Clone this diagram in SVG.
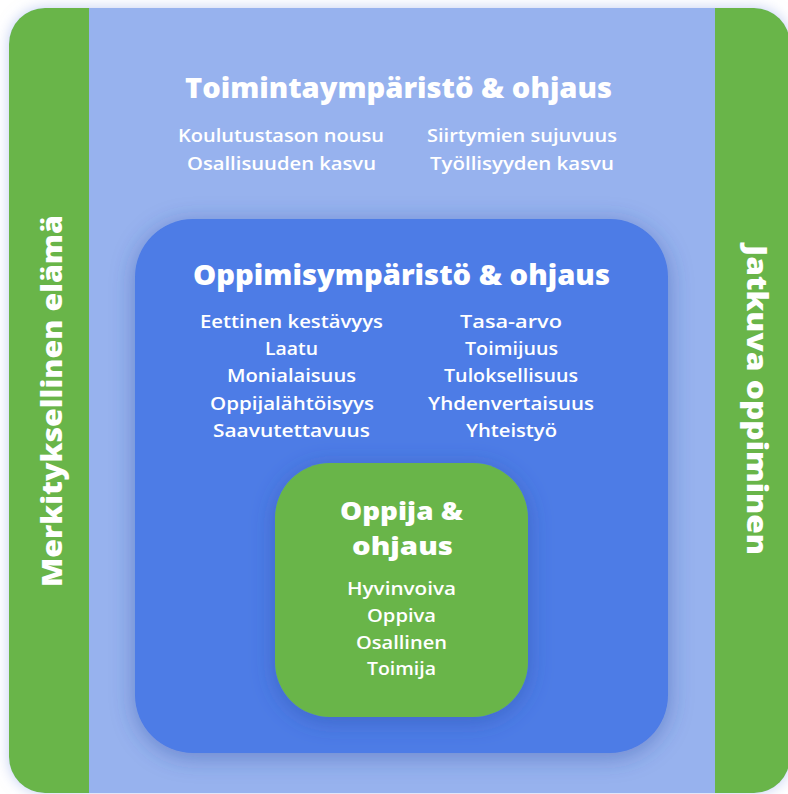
<svg xmlns="http://www.w3.org/2000/svg" width="788" height="794" viewBox="0 0 788 794">
  <defs>
    <filter id="glow" x="-10%" y="-10%" width="120%" height="120%">
      <feDropShadow dx="0" dy="0" stdDeviation="7" flood-color="#8ea4e6" flood-opacity="0.55"/>
    </filter>
    <filter id="shadow" x="-20%" y="-20%" width="140%" height="140%">
      <feDropShadow dx="0" dy="4" stdDeviation="12" flood-color="#2a4aa0" flood-opacity="0.45"/>
    </filter>
    <clipPath id="outerClip">
      <rect x="9" y="8" width="781" height="785" rx="36"/>
    </clipPath>
  </defs>
  <style>
    text { fill: #ffffff; font-family: "Open Sans", "Noto Sans", "Liberation Sans", sans-serif; text-anchor: middle; }
    .title { font-size: 28px; font-weight: 800; }
    .title2 { font-size: 25.5px; font-weight: 800; }
    .item { font-size: 18px; font-weight: 600; }
    .side { font-size: 29px; font-weight: 800; }
  </style>
  <rect width="788" height="794" fill="#ffffff"/>

  <g id="outer">
    <rect x="9" y="8" width="781" height="785" rx="36" fill="#69b54a" filter="url(#glow)"/>
    <rect x="89" y="8" width="626" height="785" fill="#97b2ee" clip-path="url(#outerClip)"/>
    <text class="side" transform="translate(62,401) rotate(-90)" textLength="372" lengthAdjust="spacingAndGlyphs">Merkityksellinen elämä</text>
    <text class="side" transform="translate(747,400) rotate(90)" textLength="310" lengthAdjust="spacingAndGlyphs">Jatkuva oppiminen</text>
  </g>

  <g id="toimintaymparisto">
    <text class="title" x="398.5" y="98" textLength="427" lengthAdjust="spacingAndGlyphs">Toimintaympäristö &amp; ohjaus</text>
    <text class="item" x="281" y="142" textLength="206" lengthAdjust="spacingAndGlyphs">Koulutustason nousu</text>
    <text class="item" x="281.5" y="170" textLength="189" lengthAdjust="spacingAndGlyphs">Osallisuuden kasvu</text>
    <text class="item" x="522" y="142" textLength="190" lengthAdjust="spacingAndGlyphs">Siirtymien sujuvuus</text>
    <text class="item" x="522" y="170" textLength="184" lengthAdjust="spacingAndGlyphs">Työllisyyden kasvu</text>
  </g>

  <g id="oppimisymparisto">
    <rect x="135" y="219" width="533" height="534" rx="58" fill="#4d7be6" filter="url(#shadow)"/>
    <text class="title" x="401.5" y="285" textLength="417" lengthAdjust="spacingAndGlyphs">Oppimisympäristö &amp; ohjaus</text>
    <text class="item" x="291.5" y="328" textLength="183" lengthAdjust="spacingAndGlyphs">Eettinen kestävyys</text>
    <text class="item" x="291.5" y="355" textLength="53" lengthAdjust="spacingAndGlyphs">Laatu</text>
    <text class="item" x="291.5" y="382" textLength="129" lengthAdjust="spacingAndGlyphs">Monialaisuus</text>
    <text class="item" x="292" y="410" textLength="164" lengthAdjust="spacingAndGlyphs">Oppijalähtöisyys</text>
    <text class="item" x="291.5" y="437" textLength="157" lengthAdjust="spacingAndGlyphs">Saavutettavuus</text>
    <text class="item" x="511" y="328" textLength="102" lengthAdjust="spacingAndGlyphs">Tasa-arvo</text>
    <text class="item" x="511.5" y="355" textLength="93" lengthAdjust="spacingAndGlyphs">Toimijuus</text>
    <text class="item" x="511" y="382" textLength="134" lengthAdjust="spacingAndGlyphs">Tuloksellisuus</text>
    <text class="item" x="511" y="410" textLength="166" lengthAdjust="spacingAndGlyphs">Yhdenvertaisuus</text>
    <text class="item" x="511.5" y="437" textLength="91" lengthAdjust="spacingAndGlyphs">Yhteistyö</text>
  </g>

  <g id="oppija">
    <rect x="275" y="463" width="253" height="254" rx="55" fill="#69b54a" filter="url(#shadow)"/>
    <text class="title2" x="401.5" y="520" textLength="123" lengthAdjust="spacingAndGlyphs">Oppija &amp;</text>
    <text class="title2" x="402.5" y="555" textLength="101" lengthAdjust="spacingAndGlyphs">ohjaus</text>
    <text class="item" x="401.5" y="595" textLength="109" lengthAdjust="spacingAndGlyphs">Hyvinvoiva</text>
    <text class="item" x="401.5" y="622" textLength="69" lengthAdjust="spacingAndGlyphs">Oppiva</text>
    <text class="item" x="401.5" y="649" textLength="91" lengthAdjust="spacingAndGlyphs">Osallinen</text>
    <text class="item" x="401.5" y="675" textLength="69" lengthAdjust="spacingAndGlyphs">Toimija</text>
  </g>

  <g id="connectors"/>
</svg>
